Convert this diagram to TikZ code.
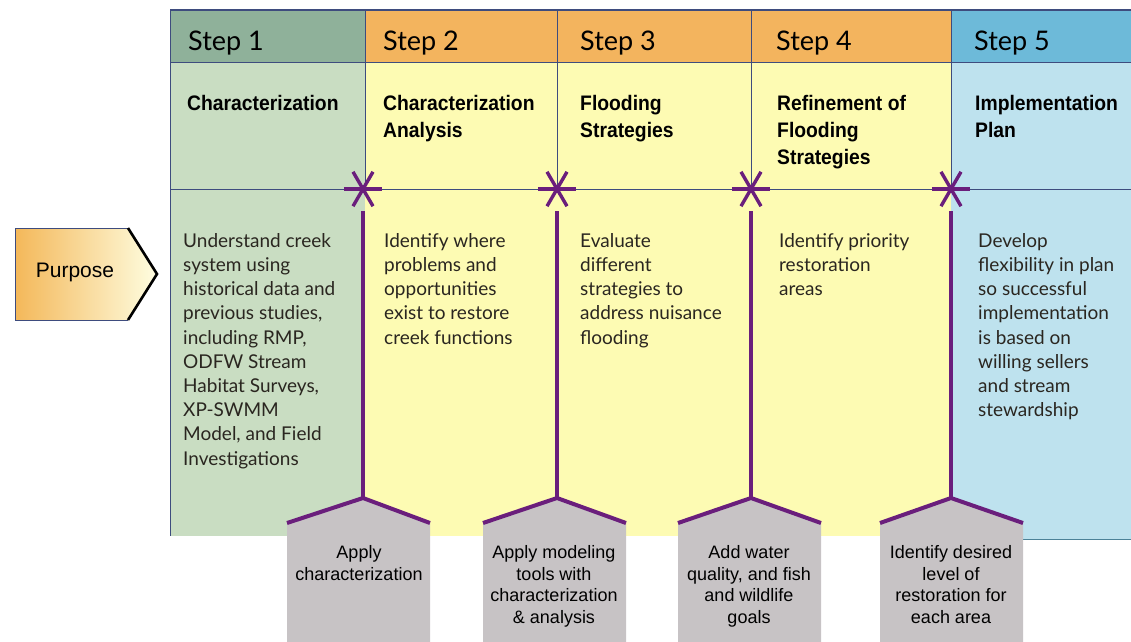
\documentclass[tikz,border=0pt]{standalone}
\usepackage{fontspec}
\setmainfont{Lato}
\newfontfamily\hfont{Liberation Sans}
\newfontfamily\tfont[FakeStretch=0.92]{Liberation Sans}
\definecolor{gh}{HTML}{8FB19A}
\definecolor{gb}{HTML}{C9DDC2}
\definecolor{oh}{HTML}{F3B45E}
\definecolor{yb}{HTML}{FDFBB3}
\definecolor{bh}{HTML}{6DBAD9}
\definecolor{bb}{HTML}{BEE2EE}
\definecolor{purp}{HTML}{6A1E7C}
\definecolor{hgray}{HTML}{C7C3C5}
\definecolor{gridc}{HTML}{3E4C7E}
\definecolor{txt}{HTML}{2A2620}
\begin{document}
\begin{tikzpicture}[x=1pt,y=-1pt,
  gridline/.style={draw=gridc, line width=0.9pt},
  pline/.style={draw=purp, line width=3.6pt},
  stephd/.style={anchor=base west, inner sep=0, font=\fontsize{27}{30}\selectfont, text=black},
  titl/.style={anchor=north west, inner sep=0, align=left, font=\tfont\bfseries\fontsize{21}{27}\selectfont, text=black},
  bodyt/.style={anchor=north west, inner sep=0, align=left, font=\fontsize{19}{24.2}\selectfont, text=txt},
  housetext/.style={anchor=north, inner sep=0, align=center, font=\hfont\fontsize{18}{21.8}\selectfont, text=black},
  starnode/.style={inner sep=0, minimum width=38pt, minimum height=34pt},
]
\useasboundingbox (0,0) rectangle (1131,641);
% panels
\fill[gh] (170,10) rectangle (365,62);
\fill[oh] (365,10) rectangle (951,62);
\fill[bh] (951,10) rectangle (1131,62);
\fill[gb] (170,62) rectangle (365,536);
\fill[yb] (365,62) rectangle (951,536);
\fill[bb] (951,62) rectangle (1131,539);
% grid
\draw[gridline, line width=1.3pt] (170,10) -- (1131,10);
\draw[gridline] (170,62) -- (1131,62);
\draw[gridline, line width=0.7pt] (170,189) -- (1131,189);
\draw[gridline, line width=0.7pt] (170,10) -- (170,536);
\foreach \x in {365,557,751,951} {
  \draw[gridline, line width=0.7pt] (\x,10) -- (\x,189);
}
\draw[draw=bh!70!black, line width=0.7pt] (951,539) -- (1131,539);
% step headers
\node[stephd] (st1) at (188,50) {Step 1};
\node[stephd] (st2) at (383,50) {Step 2};
\node[stephd] (st3) at (580,50) {Step 3};
\node[stephd] (st4) at (776,50) {Step 4};
\node[stephd] (st5) at (974,50) {Step 5};
% titles
\node[titl] (t1) at (187,95) {Characterization};
\node[titl] (t2) at (383,95) {Characterization\\Analysis};
\node[titl] (t3) at (580,95) {Flooding\\Strategies};
\node[titl] (t4) at (777,95) {Refinement of\\Flooding\\Strategies};
\node[titl] (t5) at (975,95) {Implementation\\Plan};
% body texts
\node[bodyt] (b1) at (183,233) {Understand creek\\system using\\historical data and\\previous studies,\\including RMP,\\ODFW Stream\\Habitat Surveys,\\XP-SWMM\\Model, and Field\\Investigations};
\node[bodyt] (b2) at (384,233) {Identify where\\problems and\\opportunities\\exist to restore\\creek functions};
\node[bodyt] (b3) at (580,233) {Evaluate\\different\\strategies to\\address nuisance\\flooding};
\node[bodyt] (b4) at (779,233) {Identify priority\\restoration\\areas};
\node[bodyt] (b5) at (978,233) {Develop\\flexibility in plan\\so successful\\implementation\\is based on\\willing sellers\\and stream\\stewardship};
% purpose arrow
\shade[left color=oh!95!yellow, right color=yb!40!white, shading angle=90]
  (15,228) -- (128,228) -- (157,274) -- (128,320) -- (15,320) -- cycle;
\draw[gridc, line width=1pt] (128,228) -- (15,228) -- (15,320) -- (128,320);
\draw[black, line width=2.6pt, line join=miter] (128,228) -- (157,274) -- (128,320);
\node[inner sep=0, font=\hfont\fontsize{21}{24}\selectfont] (purpose) at (75,272) {Purpose};
% houses, stars and connectors
\foreach \i/\x/\l in {1/363/287,2/557/483,3/751/678,4/951/880} {
  \node[starnode] (s\i) at (\x,189) {};
  \draw[pline, line width=3.4pt] (s\i.west) -- (s\i.east);
  \draw[pline, line width=3.4pt] ([xshift=-10pt]s\i.north) -- ([xshift=10pt]s\i.south);
  \draw[pline, line width=3.4pt] ([xshift=10pt]s\i.north) -- ([xshift=-10pt]s\i.south);
  \coordinate (r\i) at (\x,498);
  \fill[hgray] (\l,645) -- (\l,523) -- (r\i) -- (\l+143,523) -- (\l+143,645) -- cycle;
  \draw[pline, line width=4pt, line join=miter] (\l,523) -- (r\i) -- (\l+143,523);
  \draw[pline] (s\i.south) ++(0,5) -- (r\i);
}
\node[housetext] (h1) at (359,545) {Apply\\characterization};
\node[housetext] (h2) at (554,545) {Apply modeling\\tools with\\characterization\\\&\ analysis};
\node[housetext] (h3) at (749,545) {Add water\\quality, and fish\\and wildlife\\goals};
\node[housetext] (h4) at (951,545) {Identify desired\\level of\\restoration for\\each area};
\end{tikzpicture}
\end{document}
